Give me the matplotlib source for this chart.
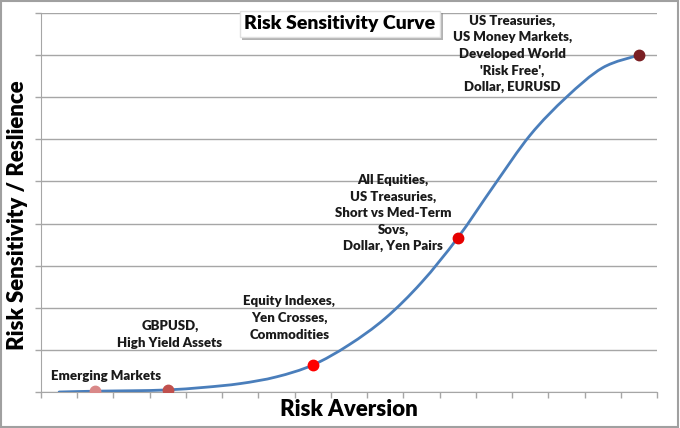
import matplotlib.pyplot as plt
import matplotlib.patheffects as pe
from matplotlib.path import Path
from matplotlib.patches import PathPatch, Rectangle
import numpy as np

# Дані кривої (17 категорій на осі X)
curve_values = [0.0, 0.02, 0.03, 0.05, 0.11, 0.2, 0.36, 0.64, 1.12, 1.75,
                2.6, 3.66, 4.9, 6.1, 7.0, 7.7, 8.0]
marker_index = [1, 3, 7, 11, 16]
marker_colors = ['#d98888', '#c0504d', '#ff0000', '#e60000', '#7a1f23']
labels = [
    'Emerging Markets',
    'GBPUSD,\nHigh Yield Assets',
    'Equity Indexes,\nYen Crosses,\nCommodities',
    'All Equities,\nUS Treasuries,\nShort vs Med-Term\nSovs,\nDollar, Yen Pairs',
    "US Treasuries,\nUS Money Markets,\nDeveloped World\n'Risk Free',\nDollar, EURUSD",
]
label_pos = [(1.3, 0.38), (3.06, 1.37), (6.35, 1.76), (9.22, 4.25), (12.51, 8.03)]

plt.rcParams['font.family'] = ['Lato', 'DejaVu Sans']

fig = plt.figure(figsize=(6.8, 4.28), dpi=100)
ax = fig.add_axes([41 / 680, 36 / 428, 616 / 680, 379 / 428])

x = np.arange(len(curve_values))
y = np.array(curve_values, dtype=float)

# Згладжена лінія (як в Excel) через криві Безьє
pts = np.column_stack([x, y])
verts = [pts[0]]
codes = [Path.MOVETO]
for i in range(len(pts) - 1):
    p0 = pts[i - 1] if i > 0 else pts[i]
    p1 = pts[i]
    p2 = pts[i + 1]
    p3 = pts[i + 2] if i + 2 < len(pts) else pts[i + 1]
    c1 = p1 + (p2 - p0) / 6
    c2 = p2 - (p3 - p1) / 6
    verts += [c1, c2, p2]
    codes += [Path.CURVE4] * 3
ax.add_patch(PathPatch(Path(verts, codes), fill=False, edgecolor='#4a7ebb',
                       linewidth=2.0, capstyle='round', zorder=3))

for idx, col in zip(marker_index, marker_colors):
    ax.plot(x[idx], y[idx], 'o', color=col, markersize=7.5, zorder=4)

for txt, (tx, ty) in zip(labels, label_pos):
    ax.text(tx, ty, txt, ha='center', va='center', fontsize=9.5,
            fontweight='heavy', linespacing=1.45, color='#1a1a1a', zorder=5)

# Сітка і осі
ax.set_xlim(-0.5, 16.5)
ax.set_ylim(0, 9)
ax.set_yticks(np.arange(0, 10))
ax.set_xticks(np.arange(-0.5, 17, 1))
ax.set_yticklabels([])
ax.set_xticklabels([])
ax.yaxis.grid(True, color='#a6a6a6', linewidth=1)
ax.set_axisbelow(True)
ax.tick_params(axis='both', direction='out', length=4, color='#a6a6a6', width=1)
for s in ['top', 'right']:
    ax.spines[s].set_visible(False)
for s in ['left', 'bottom']:
    ax.spines[s].set_color('#a6a6a6')

ax.set_xlabel('Risk Aversion', fontsize=16, fontweight='heavy')
ax.set_ylabel('Risk Sensitivity / Reslience', fontsize=16, fontweight='heavy')
ax.xaxis.set_label_coords(0.5, -18 / 379, transform=ax.transAxes)
ax.yaxis.set_label_coords(-23 / 616, 177 / 379, transform=ax.transAxes)
ax.xaxis.label.set_va('center')
ax.yaxis.label.set_va('center')

# Заголовок у рамці з тінню
t = fig.text(340 / 680, 1 - 24 / 428, 'Risk Sensitivity Curve', ha='center',
             va='center', fontsize=14, fontweight='heavy',
             bbox=dict(boxstyle='square,pad=0.25', fc='white', ec='#e0e0e0'))
t.get_bbox_patch().set_path_effects(
    [pe.SimplePatchShadow(offset=(2, -2), shadow_rgbFace='#808080', alpha=0.6),
     pe.Normal()])

# Рамка навколо рисунка
fig.patches.append(Rectangle((0.002, 0.003), 0.995, 0.994, transform=fig.transFigure,
                             fill=False, edgecolor='#a0a0a0', linewidth=1.5))

fig.savefig('out.png', dpi=100)
